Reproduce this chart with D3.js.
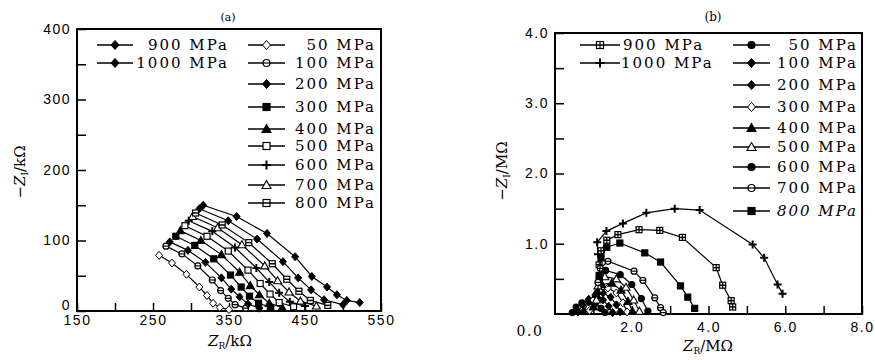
<!DOCTYPE html>
<html>
<head>
<meta charset="utf-8">
<script src="https://cdn.jsdelivr.net/npm/d3@7"></script>
<style>
  body { margin: 0; background: #fff; }
  svg { font-family: "DejaVu Serif", "Liberation Serif", serif; }
  svg text { fill: #000; }
  .tick text { font-size: 14px; letter-spacing: 1.5px; fill: #000; }
  .tick line { stroke: #000; stroke-width: 1.5px; }
  .leg { font-size: 15px; letter-spacing: 2px; }
</style>
</head>
<body>
<svg id="chart" width="875" height="360"></svg>
<script>
// ---- panel (a): Z in kOhm ----
const labelsA = ["900 MPa", "1000 MPa", "50 MPa", "100 MPa", "200 MPa", "300 MPa",
                 "400 MPa", "500 MPa", "600 MPa", "700 MPa", "800 MPa"];
const markersA = ["diamondFilled", "diamondFilled", "diamondOpen", "circleBar", "diamondFilled",
                  "squareFilled", "triangleFilled", "squareOpen", "plus", "triangleOpen", "squareBar"];
const a50 = [[258,79],[275,68],[294,52],[311,34],[321,22],[329,11],[338,5],[350,2]];
const a100 = [[267,92],[288,81],[309,64],[328,44],[339,29],[349,18],[358,9],[372,4]];
const a200 = [[272,98],[296,86],[319,69],[340,47],[353,31],[364,20],[375,10],[390,4]];
const a300 = [[280,106],[305,93],[330,74],[352,51],[366,34],[377,21],[389,11],[405,5]];
const a400 = [[286,114],[313,100],[340,80],[364,55],[378,36],[390,23],[403,11],[420,5]];
const a500 = [[292,121],[321,106],[349,85],[375,58],[391,39],[404,24],[416,12],[435,6]];
const a600 = [[297,128],[328,113],[358,90],[386,61],[403,41],[416,26],[430,13],[450,7]];
const a700 = [[302,134],[335,118],[367,94],[397,64],[414,43],[429,27],[444,14],[465,7]];
const a800 = [[306,139],[341,122],[376,97],[407,67],[426,45],[442,28],[457,15],[480,8]];
const a900 = [[311,145],[349,128],[387,102],[421,70],[441,47],[458,30],[475,16],[500,9]];
const a1000 = [[316,150],[360,134],[400,110],[437,77],[459,49],[479,34],[492,23],[505,15],[522,12]];
const seriesA = [a900, a1000, a50, a100, a200, a300, a400, a500, a600, a700, a800];
const xTicksA = [150, 250, 350, 450, 550];
const yTicksA = [0, 100, 200, 300, 400];

// ---- panel (b): Z in MOhm ----
const markersB = ["squareCross", "plus", "circleFilled", "diamondFilled", "diamondFilled",
                  "diamondOpen", "triangleFilled", "triangleOpen", "circleFilled", "circleBar", "squareFilled"];
const b50 = [[0.45,0.02],[0.55,0.10],[0.70,0.16],[0.88,0.18],[1.05,0.15],[1.20,0.08],[1.30,0.02]];
const b100 = [[0.60,0.03],[0.72,0.13],[0.88,0.21],[1.06,0.24],[1.25,0.20],[1.40,0.11],[1.50,0.02]];
const b200 = [[0.75,0.04],[0.88,0.17],[1.05,0.27],[1.25,0.30],[1.45,0.24],[1.60,0.13],[1.70,0.03]];
const b300 = [[0.90,0.05],[1.00,0.20],[1.15,0.33],[1.38,0.37],[1.60,0.30],[1.77,0.16],[1.88,0.03]];
const b400 = [[1.00,0.10],[1.08,0.28],[1.22,0.42],[1.48,0.44],[1.72,0.34],[1.90,0.18],[2.02,0.04]];
const b500 = [[1.08,0.20],[1.12,0.40],[1.30,0.53],[1.60,0.50],[1.85,0.38],[2.05,0.20],[2.20,0.04]];
const b600 = [[1.10,0.30],[1.15,0.50],[1.32,0.62],[1.70,0.56],[2.00,0.42],[2.25,0.22],[2.42,0.04]];
const b700 = [[1.12,0.45],[1.18,0.65],[1.38,0.75],[2.06,0.61],[2.29,0.48],[2.60,0.23],[2.75,0.09],[2.82,0.02]];
const b800 = [[1.15,0.55],[1.20,0.80],[1.35,0.95],[1.69,1.01],[2.34,0.87],[2.75,0.74],[3.27,0.40],[3.46,0.24],[3.64,0.08]];
const b900 = [[1.15,0.70],[1.20,0.90],[1.35,1.05],[1.64,1.13],[2.19,1.20],[2.73,1.19],[3.32,1.09],[4.20,0.66],[4.37,0.41],[4.59,0.19],[4.63,0.10]];
const b1000 = [[1.12,0.85],[1.10,1.02],[1.34,1.18],[1.77,1.29],[2.38,1.44],[3.12,1.50],[3.77,1.48],[5.15,0.99],[5.45,0.80],[5.80,0.42],[5.93,0.29]];
const seriesB = [b900, b1000, b50, b100, b200, b300, b400, b500, b600, b700, b800];
const xTicksB = [0, 2, 4, 6, 8];
const yTicksB = [0, 1, 2, 3, 4];

const svg = d3.select("#chart");

function drawMarker(g, type, x, y, s) {
  const h = s / 2;
  if (type === "diamondFilled" || type === "diamondOpen") {
    g.append("path").attr("d", `M${x},${y-h-1}L${x+h+0.5},${y}L${x},${y+h+1}L${x-h-0.5},${y}Z`)
      .attr("fill", type === "diamondFilled" ? "#000" : "#fff").attr("stroke", "#000").attr("stroke-width", 1);
  } else if (type === "circleFilled" || type === "circleOpen" || type === "circleBar") {
    g.append("circle").attr("cx", x).attr("cy", y).attr("r", h)
      .attr("fill", type === "circleFilled" ? "#000" : "#fff").attr("stroke", "#000").attr("stroke-width", 1.2);
    if (type === "circleBar") g.append("line").attr("x1", x - h).attr("x2", x + h).attr("y1", y).attr("y2", y).attr("stroke", "#000").attr("stroke-width", 1.2);
  } else if (type === "squareFilled" || type === "squareOpen" || type === "squareBar" || type === "squareCross") {
    g.append("rect").attr("x", x - h).attr("y", y - h).attr("width", s).attr("height", s)
      .attr("fill", type === "squareFilled" ? "#000" : "#fff").attr("stroke", "#000").attr("stroke-width", 1.2);
    if (type === "squareBar" || type === "squareCross") g.append("line").attr("x1", x - h).attr("x2", x + h).attr("y1", y).attr("y2", y).attr("stroke", "#000").attr("stroke-width", 1.5);
    if (type === "squareCross") g.append("line").attr("x1", x).attr("x2", x).attr("y1", y - h).attr("y2", y + h).attr("stroke", "#000").attr("stroke-width", 1.2);
  } else if (type === "triangleFilled" || type === "triangleOpen") {
    g.append("path").attr("d", `M${x},${y-h-1}L${x+h+1},${y+h}L${x-h-1},${y+h}Z`)
      .attr("fill", type === "triangleFilled" ? "#000" : "#fff").attr("stroke", "#000").attr("stroke-width", 1.1);
  } else if (type === "plus") {
    g.append("path").attr("d", `M${x-h-1},${y}H${x+h+1}M${x},${y-h-1}V${y+h+1}`)
      .attr("stroke", "#000").attr("stroke-width", 2);
  }
}

function titleTspans(t, sub, unit) {
  t.append("tspan").attr("font-style", "italic").text("Z");
  t.append("tspan").attr("font-size", "9px").attr("dy", 3).text(sub);
  t.append("tspan").attr("dy", -3).text("/" + unit);
}

function drawPanel(opt) {
  const {x, y, xMajor, xMinor, yMajor, yMinor, xFmt, yFmt, series, markers, msize} = opt;
  const g = svg.append("g");
  const [x0, x1] = x.range(), [y0, y1] = y.range();

  // minor ticks (no labels)
  g.append("g").attr("transform", `translate(${x0},0)`)
    .call(d3.axisLeft(y).tickValues(yMinor).tickSize(-9).tickFormat(""));
  g.append("g").attr("transform", `translate(0,${y0})`)
    .call(d3.axisBottom(x).tickValues(xMinor).tickSize(-8).tickFormat(""));
  // labelled ticks
  const ya = g.append("g").attr("transform", `translate(${x0},0)`)
    .call(d3.axisLeft(y).tickValues(yMajor).tickSize(-9).tickPadding(6).tickFormat(yFmt));
  // the zero label sits a little above the bottom edge
  ya.selectAll(".tick").filter(d => d === 0).select("text").attr("dy", "-0.1em");
  g.append("g").attr("transform", `translate(0,${y0})`)
    .call(d3.axisBottom(x).tickValues(xMajor).tickSize(-8).tickPadding(opt.xPad).tickFormat(xFmt));
  g.selectAll(".domain").remove();

  // frame
  g.append("rect").attr("x", x0).attr("y", y1).attr("width", x1 - x0).attr("height", y0 - y1)
    .attr("fill", "none").attr("stroke", "#000").attr("stroke-width", 2);

  const line = d3.line().x(d => x(d[0])).y(d => y(d[1]));
  series.forEach((s, i) => {
    g.append("path").datum(s).attr("d", line).attr("fill", "none")
      .attr("stroke", "#000").attr("stroke-width", 1.2);
    s.forEach(d => drawMarker(g, markers[i], x(d[0]), y(d[1]), msize));
  });

  // legend
  const lg = svg.append("g");
  opt.legend.forEach((e, i) => {
    lg.append("line").attr("x1", e.lx0).attr("x2", e.lx1).attr("y1", e.y).attr("y2", e.y)
      .attr("stroke", "#000").attr("stroke-width", 1.6);
    drawMarker(lg, markers[i], (e.lx0 + e.lx1) / 2, e.y, msize + 1);
    lg.append("text").attr("class", "leg").attr("x", e.tx).attr("y", e.y + 5)
      .attr("text-anchor", e.anchor).attr("font-style", e.italic ? "italic" : null).text(labelsA[i]);
  });
}

// legend rows
const rowsA = [45, 63, 45, 63, 84, 107, 129, 146, 165, 185, 203];
const rowsB = [45, 63, 45, 63, 85, 107, 128, 147, 167, 188, 211];

const xA = d3.scaleLinear().domain([150, 550]).range([77, 381]);
const yA = d3.scaleLinear().domain([0, 400]).range([311, 29]);
drawPanel({
  x: xA, y: yA, xMajor: xTicksA, xMinor: [200, 300, 400, 500],
  yMajor: yTicksA, yMinor: [50, 150, 250, 350], xFmt: d3.format("d"), yFmt: d3.format("d"),
  xPad: 4, series: seriesA, markers: markersA, msize: 6,
  legend: rowsA.map((r, i) => i < 2
    ? {y: r, lx0: 97, lx1: 133, tx: 229, anchor: "end"}
    : {y: r, lx0: 248, lx1: 285, tx: 376, anchor: "end"})
});

const xB = d3.scaleLinear().domain([0, 8]).range([555, 862]);
const yB = d3.scaleLinear().domain([0, 4]).range([314, 33]);
drawPanel({
  x: xB, y: yB, xMajor: xTicksB.filter(d => d > 0), xMinor: [1, 3, 5, 7],
  yMajor: yTicksB.filter(d => d > 0), yMinor: [0.5, 1.5, 2.5, 3.5], xFmt: d3.format(".1f"), yFmt: d3.format(".1f"),
  xPad: 8, series: seriesB, markers: markersB, msize: 6,
  legend: rowsB.map((r, i) => i < 2
    ? {y: r, lx0: 580, lx1: 620, tx: i === 0 ? 623 : 621, anchor: "start"}
    : {y: r, lx0: 733, lx1: 770, tx: 858, anchor: "end", italic: i === 10})
});

// the shared origin label of panel (b), placed at the lower-left corner
svg.append("text").attr("x", xB(0) - 25).attr("y", yB(0) + 22).attr("text-anchor", "middle")
  .attr("font-size", 14).attr("letter-spacing", "1.5px").text(d3.format(".1f")(xTicksB[0]));

// titles
svg.append("text").attr("x", 228).attr("y", 21).attr("text-anchor", "middle").attr("font-size", 11).text("(a)");
svg.append("text").attr("x", 713).attr("y", 21).attr("text-anchor", "middle").attr("font-size", 12).text("(b)");

const tA = svg.append("text").attr("x", 230).attr("y", 346).attr("text-anchor", "middle").attr("font-size", 15);
titleTspans(tA, "R", "kΩ");
const tB = svg.append("text").attr("x", 708).attr("y", 351).attr("text-anchor", "middle").attr("font-size", 15);
titleTspans(tB, "R", "MΩ");

const yTA = svg.append("text").attr("transform", "translate(25,172) rotate(-90)").attr("text-anchor", "middle").attr("font-size", 15);
yTA.append("tspan").text("−");
titleTspans(yTA, "I", "kΩ");
const yTB = svg.append("text").attr("transform", "translate(507,171) rotate(-90)").attr("text-anchor", "middle").attr("font-size", 15);
yTB.append("tspan").text("−");
titleTspans(yTB, "I", "MΩ");
</script>
</body>
</html>
